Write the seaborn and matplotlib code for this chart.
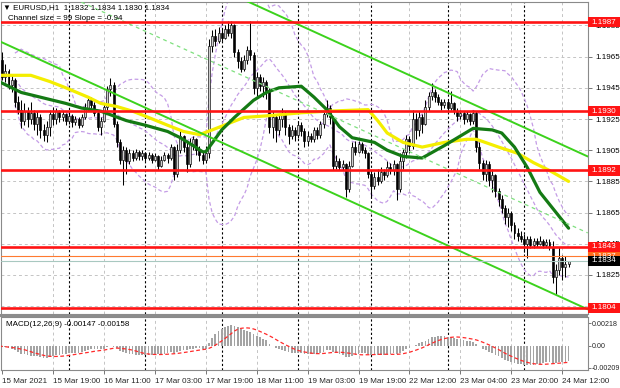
import numpy as np
import pandas as pd
import matplotlib
matplotlib.use("Agg")
import matplotlib.pyplot as plt
from matplotlib.patches import Rectangle
from matplotlib.transforms import blended_transform_factory
import seaborn as sns

sns.set_theme(style="white")
plt.rcParams["font.family"] = ["Liberation Sans", "DejaVu Sans"]

# EURUSD H1 bars, bar 0 = 15 Mar 00:00, first visible bar is bar 2
first_bar = 2
first_open = 1.1962
close = [
    1.1963, 1.1952, 1.1956, 1.1947, 1.1950, 1.1936, 1.1931, 1.1924, 1.1930, 1.1925,
    1.1929, 1.1922, 1.1926, 1.1918, 1.1915, 1.1920, 1.1928, 1.1925, 1.1930, 1.1926,
    1.1928, 1.1924, 1.1927, 1.1923, 1.1925, 1.1921, 1.1926, 1.1932, 1.1937, 1.1934,
    1.1929, 1.1920, 1.1924, 1.1933, 1.1944, 1.1947, 1.1922, 1.1910, 1.1899, 1.1905,
    1.1898, 1.1903, 1.1900, 1.1904, 1.1901, 1.1903, 1.1900, 1.1902, 1.1899, 1.1901,
    1.1895, 1.1899, 1.1902, 1.1900, 1.1907, 1.1890, 1.1905, 1.1914, 1.1907, 1.1896,
    1.1909, 1.1912, 1.1905, 1.1902, 1.1899, 1.1903, 1.1972, 1.1978, 1.1975, 1.1980,
    1.1977, 1.1983, 1.1980, 1.1985, 1.1968, 1.1962, 1.1957, 1.1963, 1.1969, 1.1966,
    1.1945, 1.1952, 1.1946, 1.1949, 1.1943, 1.1920, 1.1926, 1.1918, 1.1925, 1.1929,
    1.1920, 1.1914, 1.1918, 1.1915, 1.1921, 1.1917, 1.1911, 1.1914, 1.1912, 1.1918,
    1.1915, 1.1922, 1.1928, 1.1932, 1.1926, 1.1895, 1.1898, 1.1894, 1.1896, 1.1880,
    1.1895, 1.1907, 1.1904, 1.1909, 1.1905, 1.1903, 1.1890, 1.1882, 1.1888, 1.1885,
    1.1891, 1.1889, 1.1894, 1.1892, 1.1896, 1.1880, 1.1898, 1.1904, 1.1912, 1.1908,
    1.1925, 1.1918, 1.1926, 1.1922, 1.1933, 1.1940, 1.1942, 1.1939, 1.1936, 1.1934,
    1.1936, 1.1932, 1.1935, 1.1930, 1.1927, 1.1929, 1.1925, 1.1928, 1.1924, 1.1929,
    1.1907, 1.1897, 1.1890, 1.1896, 1.1886, 1.1889, 1.1879, 1.1874, 1.1868, 1.1862,
    1.1865, 1.1857, 1.1852, 1.1850, 1.1848, 1.1845, 1.1848, 1.1844, 1.1847, 1.1845,
    1.1847, 1.1844, 1.1846, 1.1843, 1.1824, 1.1828, 1.1836, 1.1830, 1.1832, 1.1834,
]
high = [
    1.1968, 1.1968, 1.1960, 1.1957, 1.1954, 1.1951, 1.1940, 1.1937, 1.1935, 1.1933,
    1.1936, 1.1931, 1.1930, 1.1928, 1.1922, 1.1924, 1.1931, 1.1933, 1.1932, 1.1931,
    1.1930, 1.1929, 1.1929, 1.1928, 1.1927, 1.1926, 1.1928, 1.1935, 1.1940, 1.1939,
    1.1936, 1.1930, 1.1926, 1.1935, 1.1946, 1.1951, 1.1949, 1.1924, 1.1912, 1.1908,
    1.1907, 1.1906, 1.1905, 1.1906, 1.1905, 1.1905, 1.1904, 1.1904, 1.1903, 1.1903,
    1.1902, 1.1901, 1.1904, 1.1903, 1.1909, 1.1908, 1.1909, 1.1917, 1.1915, 1.1910,
    1.1913, 1.1914, 1.1913, 1.1908, 1.1904, 1.1908, 1.1976, 1.1982, 1.1983, 1.1984,
    1.1983, 1.1985, 1.1988, 1.1988, 1.1986, 1.1970, 1.1965, 1.1966, 1.1972, 1.1988,
    1.1968, 1.1955, 1.1954, 1.1952, 1.1950, 1.1945, 1.1930, 1.1928, 1.1928, 1.1932,
    1.1930, 1.1922, 1.1921, 1.1920, 1.1924, 1.1923, 1.1919, 1.1917, 1.1916, 1.1920,
    1.1920, 1.1924, 1.1930, 1.1937, 1.1934, 1.1927, 1.1902, 1.1900, 1.1899, 1.1897,
    1.1898, 1.1910, 1.1911, 1.1911, 1.1910, 1.1907, 1.1904, 1.1892, 1.1891, 1.1893,
    1.1894, 1.1893, 1.1898, 1.1897, 1.1899, 1.1897, 1.1903, 1.1906, 1.1915, 1.1914,
    1.1931, 1.1929, 1.1930, 1.1928, 1.1937, 1.1942, 1.1948, 1.1944, 1.1941, 1.1938,
    1.1938, 1.1937, 1.1943, 1.1936, 1.1932, 1.1931, 1.1930, 1.1930, 1.1929, 1.1931,
    1.1930, 1.1910, 1.1899, 1.1899, 1.1898, 1.1893, 1.1890, 1.1881, 1.1876, 1.1870,
    1.1868, 1.1866, 1.1859, 1.1855, 1.1853, 1.1851, 1.1850, 1.1850, 1.1849, 1.1849,
    1.1850, 1.1848, 1.1848, 1.1848, 1.1847, 1.1832, 1.1843, 1.1838, 1.1837, 1.1834,
]
low = [
    1.1957, 1.1950, 1.1949, 1.1944, 1.1942, 1.1933, 1.1928, 1.1919, 1.1921, 1.1920,
    1.1922, 1.1918, 1.1915, 1.1913, 1.1911, 1.1910, 1.1914, 1.1921, 1.1922, 1.1923,
    1.1924, 1.1921, 1.1922, 1.1920, 1.1921, 1.1919, 1.1920, 1.1925, 1.1930, 1.1932,
    1.1927, 1.1917, 1.1915, 1.1923, 1.1931, 1.1940, 1.1920, 1.1907, 1.1896, 1.1883,
    1.1890, 1.1896, 1.1898, 1.1899, 1.1899, 1.1899, 1.1898, 1.1899, 1.1897, 1.1898,
    1.1892, 1.1894, 1.1898, 1.1897, 1.1899, 1.1886, 1.1888, 1.1903, 1.1904, 1.1891,
    1.1894, 1.1905, 1.1902, 1.1898, 1.1896, 1.1897, 1.1900, 1.1968, 1.1972, 1.1974,
    1.1975, 1.1976, 1.1978, 1.1977, 1.1965, 1.1958, 1.1955, 1.1956, 1.1960, 1.1963,
    1.1941, 1.1940, 1.1943, 1.1939, 1.1938, 1.1916, 1.1913, 1.1910, 1.1915, 1.1920,
    1.1915, 1.1909, 1.1912, 1.1911, 1.1913, 1.1914, 1.1907, 1.1908, 1.1910, 1.1910,
    1.1912, 1.1913, 1.1919, 1.1926, 1.1922, 1.1892, 1.1893, 1.1892, 1.1892, 1.1875,
    1.1878, 1.1894, 1.1902, 1.1903, 1.1903, 1.1900, 1.1887, 1.1875, 1.1880, 1.1883,
    1.1884, 1.1886, 1.1888, 1.1890, 1.1889, 1.1873, 1.1878, 1.1893, 1.1900, 1.1903,
    1.1906, 1.1912, 1.1914, 1.1916, 1.1921, 1.1930, 1.1937, 1.1936, 1.1934, 1.1931,
    1.1932, 1.1930, 1.1931, 1.1928, 1.1924, 1.1925, 1.1922, 1.1923, 1.1921, 1.1922,
    1.1904, 1.1893, 1.1886, 1.1885, 1.1882, 1.1878, 1.1875, 1.1869, 1.1865, 1.1858,
    1.1856, 1.1853, 1.1848, 1.1847, 1.1846, 1.1840, 1.1836, 1.1842, 1.1842, 1.1843,
    1.1844, 1.1842, 1.1843, 1.1841, 1.1820, 1.1812, 1.1825, 1.1822, 1.1824, 1.1830,
]

# moving averages (higher timeframe at these bars)
green_ma_bar = [2, 9, 15, 19, 23, 28, 34, 38, 42, 48, 55, 59, 63, 66, 67, 72, 76, 82, 86,
                90, 97, 101, 105, 109, 113, 120, 124, 129, 135, 142, 151, 157, 160, 164,
                168, 172, 181]
green_ma = [1.1949, 1.1942, 1.1939, 1.1937, 1.1935, 1.1932, 1.1930, 1.1927, 1.1924,
            1.1921, 1.1917, 1.1913, 1.1908, 1.1904, 1.1904, 1.1918, 1.1926, 1.1937,
            1.1942, 1.1945, 1.1946, 1.1939, 1.1931, 1.1920, 1.1913, 1.1910, 1.1905,
            1.1901, 1.1900, 1.1908, 1.1919, 1.1918, 1.1916, 1.1907, 1.1894, 1.1878,
            1.1855]
yellow_ma_bar = [2, 12, 18, 23, 30, 34, 39, 44, 49, 55, 60, 65, 69, 74, 79, 86, 97, 105,
                 118, 121, 124, 129, 135, 142, 149, 152, 159, 165, 170, 175, 181]
yellow_ma = [1.1953, 1.1953, 1.1949, 1.1945, 1.1939, 1.1935, 1.1933, 1.1930, 1.1926,
             1.1921, 1.1917, 1.1915, 1.1918, 1.1922, 1.1926, 1.1927, 1.1929, 1.1930,
             1.1931, 1.1924, 1.1916, 1.1910, 1.1907, 1.1910, 1.1912, 1.1912, 1.1907,
             1.1903, 1.1897, 1.1892, 1.1885]

# regression channel
channel_bar = [2, 187]
channel_upper = [1.2073, 1.1901]
channel_mid = [1.2024, 1.1852]
channel_lower = [1.1975, 1.1803]

levels = [1.1987, 1.1930, 1.1892, 1.1843, 1.1804]
ask_price = 1.1837
bid_price = 1.1834

price_ticks = [1.1805, 1.1825, 1.1845, 1.1865, 1.1885, 1.1905, 1.1925, 1.1945, 1.1965, 1.1985]
day_starts = [24, 48, 72, 96, 119, 143, 167]
time_tick_bars = [3, 19, 35, 51, 67, 83, 99, 115, 131, 147, 163, 179]
time_tick_labels = ["15 Mar 2021", "15 Mar 19:00", "16 Mar 11:00", "17 Mar 03:00",
                    "17 Mar 19:00", "18 Mar 11:00", "19 Mar 03:00", "19 Mar 19:00",
                    "22 Mar 12:00", "23 Mar 04:00", "23 Mar 20:00", "24 Mar 12:00"]
macd_ticks = [0.00218, 0.0, -0.00209]
macd_tick_labels = ["0.00218", "0.00", "-0.00209"]

bars = pd.DataFrame({"bar": np.arange(first_bar, first_bar + len(close)),
                     "close": close, "high": high, "low": low})
bars["open"] = [first_open] + close[:-1]

# Bollinger bands (20, 2) and MACD (12, 26, 9) from the closes
mid = bars["close"].rolling(20, min_periods=6).mean()
sd = bars["close"].rolling(20, min_periods=6).std(ddof=0)
bars["bb_mid"] = mid
bars["bb_up"] = mid + 2 * sd
bars["bb_dn"] = mid - 2 * sd
ema12 = bars["close"].ewm(span=12, adjust=False).mean()
ema26 = bars["close"].ewm(span=26, adjust=False).mean()
bars["macd"] = ema12 - ema26
bars["signal"] = bars["macd"].rolling(9, min_periods=1).mean()

W, H = 620, 388
fig = plt.figure(figsize=(W / 100, H / 100), dpi=100)
fig.patch.set_facecolor("white")

def fx(px):
    return px / W

def fy(py):
    return 1 - py / H

ax = fig.add_axes([fx(1), fy(314), (588 - 1) / W, (314 - 2) / H])
ax2 = fig.add_axes([fx(1), fy(370), (588 - 1) / W, (370 - 317) / H])
x_left, x_right = 2.64, 187.1

grid_kw = dict(color="#c4c4c4", lw=0.7, ls=(0, (3, 3)), zorder=0.5)
sep_kw = dict(color="black", lw=0.8, ls=(0, (2, 2)), zorder=1)

# ---- main price panel
for p in price_ticks:
    ax.axhline(p, **grid_kw)
for b in time_tick_bars[1:]:
    ax.axvline(b, **grid_kw)
    ax2.axvline(b, **grid_kw)
for d in day_starts:
    ax.axvline(d, **sep_kw)
    ax2.axvline(d, **sep_kw)

bb_kw = dict(color="#c49ce6", linewidth=0.9, linestyle=(0, (3, 2)), zorder=2)
for col in ["bb_up", "bb_mid", "bb_dn"]:
    sns.lineplot(data=bars, x="bar", y=col, ax=ax, **bb_kw)

up = bars["close"] >= bars["open"]
ax.vlines(bars["bar"], bars["low"], bars["high"], color="black", lw=0.75, zorder=3)
ax.bar(bars["bar"], (bars["close"] - bars["open"]).where(lambda s: s.abs() > 1e-6, 0.00003),
       bottom=bars["open"], width=0.62,
       color=np.where(up, "#cfcfcf", "black"), edgecolor="black", linewidth=0.45, zorder=3.1)

sns.lineplot(x=yellow_ma_bar, y=yellow_ma, ax=ax, color="#f4ee00", linewidth=2.3, zorder=3.5)
sns.lineplot(x=green_ma_bar, y=green_ma, ax=ax, color="#147a14", linewidth=2.3, zorder=3.6)

sns.lineplot(x=channel_bar, y=channel_upper, ax=ax, color="#3cd21c", linewidth=1.4, zorder=3.7)
sns.lineplot(x=channel_bar, y=channel_lower, ax=ax, color="#3cd21c", linewidth=1.4, zorder=3.7)
sns.lineplot(x=channel_bar, y=channel_mid, ax=ax, color="#7ee07e", linewidth=0.9,
             linestyle=(0, (3, 3)), zorder=3.7)

for lv in levels:
    ax.axhline(lv, color="#ff1414", lw=1.9, zorder=3.8)
ax.axhline(ask_price, color="#ff7a30", lw=0.8, zorder=3.8)
ax.axhline(bid_price, color="#a8c8c0", lw=0.8, zorder=3.8)

ax.set_xlim(x_left, x_right)
ax.set_ylim(1.1800, 1.2000)
ax.set_xticks([])
ax.set_yticks(price_ticks)
ax.set_yticklabels([f"{p:.4f}" for p in price_ticks])
ax.yaxis.tick_right()
ax.tick_params(axis="y", direction="out", length=3, width=0.6, color="#606060",
               labelsize=5.8, pad=2, labelcolor="black")
ax.set_xlabel("")
ax.set_ylabel("")

# price boxes on the right scale
trans = blended_transform_factory(fig.transFigure, ax.transData)
hh = 5.2 / 15600
boxes = [(ask_price, "#ff6a1a"), (1.1987, "#ff1414"), (1.1930, "#ff1414"),
         (1.1892, "#ff1414"), (1.1843, "#ff1414"), (1.1804, "#ff1414"), (bid_price, "black")]
for p, c in boxes:
    ax.add_patch(Rectangle((fx(588), p - hh), fx(620) - fx(588), 2 * hh, transform=trans,
                           facecolor=c, edgecolor="none", clip_on=False, zorder=5))
    ax.text(fx(591.5), p, f"{p:.4f}", transform=trans, color="white", fontsize=5.8,
            va="center", ha="left", clip_on=False, zorder=6)

# ---- MACD panel
ax2.bar(bars["bar"], bars["macd"], width=0.55, color="#a4a4a4", linewidth=0, zorder=2)
sns.lineplot(data=bars, x="bar", y="signal", ax=ax2, color="#ff2a2a", linewidth=0.9,
             linestyle=(0, (3, 2)), zorder=3)
ax2.set_xlim(x_left, x_right)
ax2.set_ylim(-0.00233, 0.00281)
ax2.set_yticks(macd_ticks)
ax2.set_yticklabels(macd_tick_labels)
ax2.yaxis.tick_right()
ax2.tick_params(axis="y", direction="out", length=2, width=0.6, color="#606060",
                labelsize=5.1, pad=0.8)
ax2.set_xticks(time_tick_bars)
ax2.set_xticklabels(time_tick_labels, ha="left")
ax2.tick_params(axis="x", direction="out", length=3, width=0.6, color="#606060",
                labelsize=5.8, pad=2.5, bottom=True)
ax2.set_xlabel("")
ax2.set_ylabel("")

for a in (ax, ax2):
    for s in a.spines.values():
        s.set_color("#8a8a8a")
        s.set_linewidth(0.8)
    a.set_facecolor("white")

# separator between the two panels
fig.patches.append(Rectangle((0, fy(317)), fx(588), (317 - 314) / H, transform=fig.transFigure,
                             facecolor="#8c8c8c", edgecolor="none", zorder=10))

fig.text(fx(3), fy(8), "\u25bc EURUSD,H1  1.1832 1.1834 1.1830 1.1834", fontsize=5.8,
         va="center", ha="left", color="black")
fig.text(fx(8), fy(18), "Channel size = 99 Slope = -0.94", fontsize=5.8,
         va="center", ha="left", color="black")
fig.text(fx(6), fy(324), "MACD(12,26,9) -0.00147 -0.00158", fontsize=5.8,
         va="center", ha="left", color="black")

fig.savefig("out.png", dpi=100, facecolor="white")
